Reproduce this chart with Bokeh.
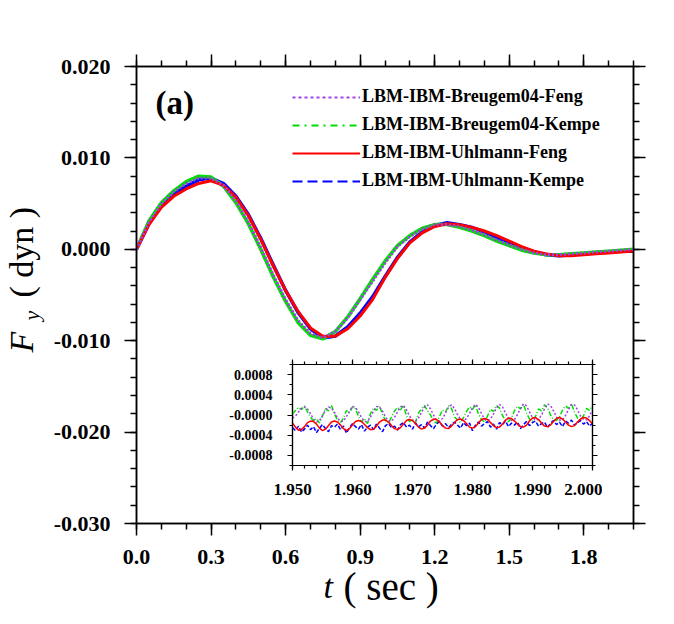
from math import pi

from bokeh.embed import file_html
from bokeh.layouts import column
from bokeh.models import (ColumnDataSource, FixedTicker, Label, Legend,
                          LegendItem, LinearAxis)
from bokeh.plotting import figure
from bokeh.resources import INLINE

SERIF = "Liberation Serif"
W, H = 674, 624

# ---------------- main history, F_y (dyn) against t (sec) ----------------
t_main = [0.00, 0.05, 0.10, 0.15, 0.20, 0.25, 0.30, 0.35, 0.40, 0.45,
          0.50, 0.55, 0.60, 0.65, 0.70, 0.75, 0.80, 0.85, 0.90, 0.95,
          1.00, 1.05, 1.10, 1.15, 1.20, 1.25, 1.30, 1.35, 1.40, 1.45,
          1.50, 1.55, 1.60, 1.65, 1.70, 1.75, 1.80, 1.85, 1.90, 1.95, 2.00]

breugem_feng = [0.0000, 0.0030, 0.0050, 0.0063, 0.0072, 0.0078, 0.0078, 0.0070, 0.0053, 0.0030,
                0.0002, -0.0028, -0.0055, -0.0078, -0.0092, -0.0097, -0.0090, -0.0075, -0.0055, -0.0035,
                -0.0015, 0.0003, 0.0014, 0.0022, 0.0027, 0.0027, 0.0025, 0.0021, 0.0016, 0.0010,
                0.0005, 0.0000, -0.0004, -0.0006, -0.0006, -0.0005, -0.0004, -0.0003, -0.0002, -0.0001, 0.0000]

breugem_kempe = [0.0000, 0.0031, 0.0051, 0.0064, 0.0074, 0.0080, 0.0079, 0.0069, 0.0051, 0.0028,
                 0.0000, -0.0030, -0.0057, -0.0080, -0.0094, -0.0098, -0.0090, -0.0074, -0.0054, -0.0033,
                 -0.0013, 0.0004, 0.0015, 0.0023, 0.0027, 0.0027, 0.0024, 0.0020, 0.0015, 0.0009,
                 0.0004, -0.0001, -0.0004, -0.0006, -0.0006, -0.0005, -0.0004, -0.0003, -0.0002, -0.0001, 0.0000]

uhlmann_feng = [0.0000, 0.0027, 0.0046, 0.0058, 0.0066, 0.0072, 0.0075, 0.0070, 0.0057, 0.0037,
                0.0011, -0.0018, -0.0045, -0.0068, -0.0086, -0.0095, -0.0095, -0.0087, -0.0073, -0.0055,
                -0.0031, -0.0010, 0.0007, 0.0018, 0.0025, 0.0028, 0.0027, 0.0024, 0.0020, 0.0015,
                0.0009, 0.0003, -0.0002, -0.0005, -0.0007, -0.0007, -0.0006, -0.0005, -0.0004, -0.0003, -0.0002]

uhlmann_kempe = [0.0000, 0.0028, 0.0049, 0.0061, 0.0069, 0.0076, 0.0078, 0.0072, 0.0058, 0.0038,
                 0.0012, -0.0017, -0.0045, -0.0069, -0.0087, -0.0097, -0.0095, -0.0085, -0.0070, -0.0052,
                 -0.0030, -0.0009, 0.0008, 0.0019, 0.0026, 0.0029, 0.0027, 0.0024, 0.0019, 0.0013,
                 0.0007, 0.0002, -0.0003, -0.0006, -0.0007, -0.0006, -0.0005, -0.0004, -0.0003, -0.0002, -0.0002]

x_ticks = [0.0, 0.3, 0.6, 0.9, 1.2, 1.5, 1.8]
x_tick_labels = ["0.0", "0.3", "0.6", "0.9", "1.2", "1.5", "1.8"]
y_ticks = [-0.030, -0.020, -0.010, 0.000, 0.010, 0.020]
y_tick_labels = ["-0.030", "-0.020", "-0.010", "0.000", "0.010", "0.020"]

series_names = ["LBM-IBM-Breugem04-Feng", "LBM-IBM-Breugem04-Kempe",
                "LBM-IBM-Uhlmann-Feng", "LBM-IBM-Uhlmann-Kempe"]

# ---------------- zoomed window 1.95 - 2.00 s (values in 1e-4 dyn) ----------------
t_zoom = [round(1.95 + 0.0005 * i, 4) for i in range(101)]

zoom_breugem_feng_e4 = [
    -0.6, -0.2, 0.6, 1.3, 1.6, 1.2, 0.3, -0.8,
    -1.4, -1.1, -0.1, 0.9, 1.6, 1.4, 0.5, -0.6,
    -1.3, -1.2, -0.3, 0.8, 1.7, 1.5, 0.6, -0.5,
    -1.3, -1.3, -0.4, 0.7, 1.7, 1.6, 0.8, -0.4,
    -1.2, -1.2, -0.5, 0.6, 1.6, 1.9, 1.0, -0.2,
    -1.1, -1.2, -0.6, 0.5, 1.6, 2.0, 1.2, 0.0,
    -1.0, -1.2, -0.7, 0.4, 1.5, 2.0, 1.3, 0.1,
    -0.9, -1.1, -0.7, 0.3, 1.5, 2.1, 1.5, 0.3,
    -0.8, -1.1, -0.8, 0.2, 1.4, 2.1, 1.6, 0.4,
    -0.7, -1.1, -0.9, 0.1, 1.3, 2.2, 1.8, 0.6,
    -0.5, -1.0, -0.9, 0.0, 1.2, 2.2, 1.9, 0.8,
    -0.4, -1.0, -1.0, -0.1, 1.1, 2.1, 2.0, 1.0,
    -0.2, -0.9, -1.0, -0.2, 1.0]

zoom_breugem_kempe_e4 = [
    0.2, 0.9, 1.5, 1.1, 1.8, 0.6, -0.4, -1.2,
    -0.7, -1.6, -0.2, 1.3, 0.8, 1.9, 0.2, -1.0,
    -1.5, -0.6, 0.9, 0.4, 1.6, 1.2, -0.3, -1.4,
    -0.8, -1.7, 0.3, 1.4, 0.9, 1.8, 0.1, -1.1,
    -1.6, -0.4, 0.8, 1.5, 1.0, 1.9, -0.2, -1.3,
    -0.9, -1.5, 0.4, 1.2, 1.9, 0.8, 0.0, -1.2,
    -1.6, -0.3, 1.0, 0.6, 1.8, 1.3, -0.4, -1.0,
    -1.5, -0.5, 0.7, 1.6, 1.1, 2.0, 0.2, -0.9,
    -1.4, -0.2, 1.1, 0.7, 1.9, 1.4, -0.1, -1.1,
    -1.3, -0.6, 0.9, 1.7, 1.2, 2.1, 0.4, -0.8,
    -1.2, -0.3, 1.2, 0.8, 2.0, 1.5, 0.0, -0.9,
    -1.1, -0.4, 1.0, 1.8, 1.3, 2.2, 0.6, -0.6,
    -1.0, -0.2, 1.3, 0.9, 1.9]

zoom_uhlmann_feng_e4 = [
    -1.6, -2.4, -3.0, -2.9, -2.3, -1.5, -1.2, -1.3,
    -1.8, -2.6, -3.1, -2.8, -2.1, -1.4, -1.2, -1.4,
    -2.0, -2.7, -3.1, -2.7, -2.0, -1.3, -1.1, -1.3,
    -1.9, -2.5, -2.9, -2.8, -2.2, -1.4, -1.0, -1.0,
    -1.4, -2.1, -2.7, -2.9, -2.5, -1.8, -1.1, -0.9,
    -1.1, -1.7, -2.4, -2.8, -2.6, -2.0, -1.2, -0.8,
    -0.9, -1.4, -2.1, -2.6, -2.7, -2.2, -1.5, -0.9,
    -0.8, -1.1, -1.7, -2.4, -2.6, -2.3, -1.6, -0.9,
    -0.7, -0.9, -1.5, -2.1, -2.5, -2.4, -1.8, -1.0,
    -0.6, -0.7, -1.2, -1.8, -2.3, -2.4, -2.0, -1.2,
    -0.6, -0.5, -0.9, -1.6, -2.2, -2.3, -2.0, -1.3,
    -0.7, -0.5, -0.8, -1.4, -2.0, -2.3, -2.1, -1.4,
    -0.8, -0.5, -0.6, -1.1, -1.8]

zoom_uhlmann_kempe_e4 = [
    -2.5, -3.1, -2.2, -3.4, -2.8, -2.0, -2.9, -2.3,
    -3.5, -2.6, -1.9, -2.7, -3.3, -2.1, -2.4, -1.8,
    -2.9, -2.2, -3.6, -2.5, -1.7, -2.3, -2.8, -1.9,
    -3.2, -2.4, -2.0, -2.9, -1.8, -2.6, -3.3, -2.1,
    -1.7, -2.5, -2.2, -3.0, -1.9, -1.5, -2.4, -2.0,
    -2.8, -1.6, -2.3, -1.9, -2.6, -1.4, -2.1, -2.7,
    -1.8, -1.3, -2.2, -1.7, -2.5, -1.9, -1.4, -2.0,
    -2.6, -1.5, -2.1, -1.6, -3.1, -2.0, -1.4, -2.2,
    -1.7, -1.3, -2.4, -1.8, -2.8, -1.5, -1.9, -1.2,
    -2.3, -1.6, -2.0, -1.4, -2.7, -1.9, -1.3, -2.1,
    -1.5, -1.2, -2.2, -1.7, -1.4, -2.5, -1.6, -1.1,
    -1.9, -1.4, -2.3, -1.2, -1.6, -1.0, -2.0, -1.5,
    -1.1, -1.8, -1.3, -2.2, -1.6]

zoom_x_ticks = [1.95, 1.96, 1.97, 1.98, 1.99, 2.00]
zoom_x_tick_labels = ["1.950", "1.960", "1.970", "1.980", "1.990", "2.000"]
zoom_y_ticks = [-0.0008, -0.0004, 0.0, 0.0004, 0.0008]
zoom_y_tick_labels = ["-0.0008", "-0.0004", "-0.0000", "0.0004", "0.0008"]

COLORS = {"bf": "#a040e8", "bk": "#00e000", "uf": "#ff0000", "uk": "#0000ff"}


def style_axis(ax, ticks, labels, minor, font_size, tick_out, minor_out,
               standoff, width, show_labels=True):
    ax.ticker = FixedTicker(ticks=ticks, minor_ticks=minor)
    ax.major_label_overrides = dict(zip(ticks, labels))
    ax.major_tick_out = tick_out
    ax.major_tick_in = 0
    ax.minor_tick_out = minor_out
    ax.minor_tick_in = 0
    ax.axis_line_width = width
    ax.major_tick_line_width = width
    ax.minor_tick_line_width = width
    ax.axis_line_color = "black"
    ax.major_tick_line_color = "black"
    ax.minor_tick_line_color = "black"
    ax.major_label_standoff = standoff
    ax.major_label_text_font = SERIF
    ax.major_label_text_font_style = "bold"
    ax.major_label_text_font_size = font_size
    ax.major_label_text_color = "black" if show_labels else None


def text_piece(x, y, text, size, style="normal", angle=0.0, baseline="middle"):
    """Text placed in screen pixels measured from the bottom-left of its frame."""
    return Label(x=x, y=y, x_units="screen", y_units="screen", text=text,
                 angle=angle, text_font=SERIF, text_font_style=style,
                 text_font_size=size, text_color="black", text_baseline=baseline)


# ---------------- main figure ----------------
p = figure(width=W, height=H, x_range=(0.0, 2.0), y_range=(-0.030, 0.020),
           output_backend="svg", toolbar_location=None,
           min_border_left=136, min_border_right=41,
           min_border_top=66, min_border_bottom=101)
p.frame_align = False
p.xgrid.visible = False
p.ygrid.visible = False
p.outline_line_color = "black"
p.outline_line_width = 1.5
p.background_fill_color = "white"
p.border_fill_color = "white"

p.add_layout(LinearAxis(), "above")
p.add_layout(LinearAxis(), "right")

x_minor = [round(0.1 * i, 1) for i in range(21)]
y_minor = [round(-0.030 + 0.002 * i, 3) for i in range(26)]
style_axis(p.below[0], x_ticks, x_tick_labels, x_minor, "22px", 12, 6, 14, 1.5)
style_axis(p.above[0], x_ticks, x_tick_labels, x_minor, "22px", 12, 6, 14, 1.5, False)
style_axis(p.left[0], y_ticks, y_tick_labels, y_minor, "22px", 12, 6, 14, 1.5)
style_axis(p.right[0], y_ticks, y_tick_labels, y_minor, "22px", 12, 6, 14, 1.5, False)

src = ColumnDataSource(dict(t=t_main, bf=breugem_feng, bk=breugem_kempe,
                            uf=uhlmann_feng, uk=uhlmann_kempe))
p.line("t", "uk", source=src, line_color=COLORS["uk"], line_width=3.5)
p.line("t", "bk", source=src, line_color=COLORS["bk"], line_width=3.5)
p.line("t", "uf", source=src, line_color=COLORS["uf"], line_width=3)
p.line("t", "bf", source=src, line_color=COLORS["bf"], line_width=3, line_dash="2 2")

# legend keys: one undrawn (NaN) point each, carrying the series' dash pattern
nan = float("nan")
leg_bf = p.line([nan], [nan], line_color=COLORS["bf"], line_width=2, line_dash="3 3")
leg_bk = p.line([nan], [nan], line_color=COLORS["bk"], line_width=2, line_dash="7 5 2 5")
leg_uf = p.line([nan], [nan], line_color=COLORS["uf"], line_width=2)
leg_uk = p.line([nan], [nan], line_color=COLORS["uk"], line_width=2, line_dash="10 5")
legend = Legend(
    items=[LegendItem(label=n, renderers=[r])
           for n, r in zip(series_names, [leg_bf, leg_bk, leg_uf, leg_uk])],
    location=(156, 332), glyph_width=68, glyph_height=20, label_height=20,
    spacing=7, padding=0, margin=0, label_standoff=2,
    border_line_color=None, background_fill_alpha=0,
    label_text_font=SERIF, label_text_font_style="bold",
    label_text_font_size="18px", label_text_color="black")
p.add_layout(legend)

p.add_layout(text_piece(19, 403, "(a)", "33px", "bold", baseline="bottom"))

# ---------------- inset: last 0.05 s ----------------
inset = figure(frame_width=300, frame_height=101, x_range=(1.95, 2.0),
               y_range=(-0.001, 0.001), output_backend="svg", toolbar_location=None,
               min_border_left=70, min_border_right=10, min_border_top=10,
               min_border_bottom=40)
inset.frame_align = False
inset.margin = (-270, 0, 0, 222)
inset.xgrid.visible = False
inset.ygrid.visible = False
inset.outline_line_color = "black"
inset.outline_line_width = 1.2
inset.background_fill_color = "white"
inset.border_fill_color = None

inset.add_layout(LinearAxis(), "above")
inset.add_layout(LinearAxis(), "right")
zx_minor = [round(1.95 + 0.002 * i, 3) for i in range(26)]
zy_minor = [round(-0.001 + 0.0002 * i, 4) for i in range(11)]
style_axis(inset.below[0], zoom_x_ticks, zoom_x_tick_labels, zx_minor, "17px", 5, 3, 13, 1.2)
style_axis(inset.above[0], zoom_x_ticks, zoom_x_tick_labels, zx_minor, "17px", 5, 3, 13, 1.2, False)
style_axis(inset.left[0], zoom_y_ticks, zoom_y_tick_labels, zy_minor, "14px", 5, 3, 15, 1.2)
style_axis(inset.right[0], zoom_y_ticks, zoom_y_tick_labels, zy_minor, "14px", 5, 3, 15, 1.2, False)

zsrc = ColumnDataSource(dict(
    t=t_zoom,
    bf=[v * 1e-4 for v in zoom_breugem_feng_e4],
    bk=[v * 1e-4 for v in zoom_breugem_kempe_e4],
    uf=[v * 1e-4 for v in zoom_uhlmann_feng_e4],
    uk=[v * 1e-4 for v in zoom_uhlmann_kempe_e4]))
inset.line("t", "bk", source=zsrc, line_color=COLORS["bk"], line_width=1.5, line_dash="5 2 1 2")
inset.line("t", "bf", source=zsrc, line_color=COLORS["bf"], line_width=1.5, line_dash="2 2")
inset.line("t", "uk", source=zsrc, line_color=COLORS["uk"], line_width=1.5, line_dash="4 2")
inset.line("t", "uf", source=zsrc, line_color=COLORS["uf"], line_width=1.5)

# ---------------- transparent full-page layer for the axis titles ----------------
titles = figure(width=W, height=H, x_range=(0, W), y_range=(0, H),
                x_axis_location=None, y_axis_location=None,
                output_backend="svg", toolbar_location=None, min_border=0)
titles.frame_align = False
titles.margin = (-(354 + 151), 0, 0, 0)
titles.xgrid.visible = False
titles.ygrid.visible = False
titles.outline_line_color = None
titles.background_fill_color = None
titles.border_fill_color = None

titles.add_layout(text_piece(21, 272, "F", "34px", "italic", pi / 2))
titles.add_layout(text_piece(31, 304, "y", "22px", "italic", pi / 2))
titles.add_layout(text_piece(21, 327, "( dyn )", "34px", "normal", pi / 2))

titles.add_layout(text_piece(323, 38, "t", "34px", "italic"))
titles.add_layout(text_piece(343, 38, "( sec )", "39px"))

layout = column(p, inset, titles)
open("out.html", "w").write(file_html(layout, INLINE))
